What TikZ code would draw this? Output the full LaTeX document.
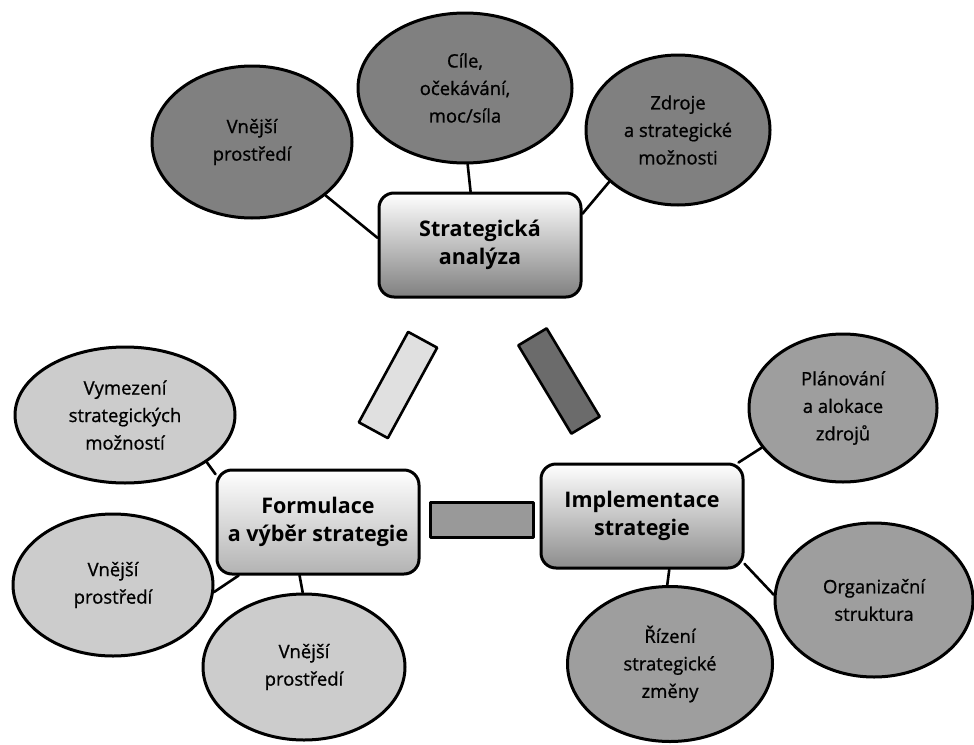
\documentclass[tikz,border=0pt]{standalone}
\usepackage{fontspec}
\setmainfont{Open Sans}
\newfontfamily\bubfont{Open Sans}[FakeBold=0.9]
\usetikzlibrary{shapes.geometric, positioning}
\tikzset{
  every picture/.style={line cap=round, line join=round},
  bubble/.style={ellipse, draw=black, line width=3pt, inner sep=0pt, align=center,
    font=\bubfont\fontsize{18.5}{27.5}\selectfont},
  darkbub/.style={bubble, fill=black!50},
  midbub/.style={bubble, fill=black!38},
  lightbub/.style={bubble, fill=black!20},
  stagebox/.style={draw=black, line width=3pt, rounded corners=15pt, minimum width=202pt,
    minimum height=104pt, align=center, font=\bfseries\fontsize{21.5}{28}\selectfont},
  bar/.style={draw=black, line width=2.6pt, minimum width=103pt, minimum height=33pt, inner sep=0pt},
  link/.style={line width=2.6pt},
}
\begin{document}
\begin{tikzpicture}[x=1pt, y=-1pt]
  \useasboundingbox (0,0) rectangle (974,744);
  % three stages
  \node[stagebox, top color=white, bottom color=black!50] (sa) at (480,245) {Strategická\\analýza};
  \node[stagebox, top color=white, bottom color=black!30] (fv) at (318,522) {Formulace\\a výběr strategie};
  \node[stagebox, top color=white, bottom color=black!45] (impl) at (642,516) {Implementace\\strategie};
  % analysis
  \node[darkbub, minimum width=200pt, minimum height=152pt] (vnejsi) at (252,142) {Vnější\\prostředí};
  \node[darkbub, minimum width=214pt, minimum height=150pt] (cile) at (465,88) {Cíle,\\očekávání,\\moc/síla};
  \node[darkbub, minimum width=184pt, minimum height=150pt] (zdroje) at (678,130) {Zdroje\\a strategické\\možnosti};
  % choice
  \node[lightbub, minimum width=220pt, minimum height=136pt] (vymez) at (125,415) {Vymezení\\strategických\\možností};
  \node[lightbub, minimum width=200pt, minimum height=142pt] (vnejsiL) at (113,585) {Vnější\\prostředí};
  \node[lightbub, minimum width=202pt, minimum height=146pt] (vnejsiB) at (304,667) {Vnější\\prostředí};
  % implementation
  \node[midbub, minimum width=188pt, minimum height=148pt] (plan) at (843,408) {Plánování\\a alokace\\zdrojů};
  \node[midbub, minimum width=198pt, minimum height=154pt] (org) at (874,600) {Organizační\\struktura};
  \node[midbub, minimum width=205pt, minimum height=155pt] (rizeni) at (670,664) {Řízení\\strategické\\změny};
  % bars between the stages
  \node[bar, fill=black!12, rotate=61.4] (barL) at (398,385) {};
  \node[bar, fill=black!58, rotate=-59] (barR) at (559,381) {};
  \node[bar, fill=black!40, minimum height=35pt] (barH) at (482,520) {};
  % links
  \draw[link] (sa.176) -- (vnejsi.-36);
  \draw[link] (sa.100) -- (cile.-88);
  \draw[link] (sa.17) -- (zdroje.-143);
  \draw[link] (fv.155) -- (vymez.-30);
  \draw[link] (fv.-146) -- (vnejsiL.-4);
  \draw[link] (fv.-109) -- (vnejsiB.91);
  \draw[link] (impl.29) -- (plan.-154);
  \draw[link] (impl.-25) -- (org.177);
  \draw[link] (impl.-63) -- (rizeni.92);
\end{tikzpicture}
\end{document}
